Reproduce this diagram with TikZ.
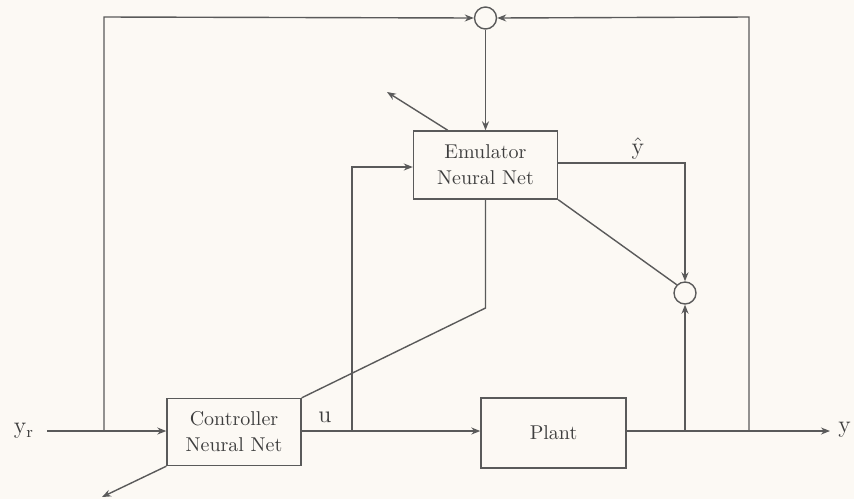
\documentclass[tikz,border=0pt]{standalone}
\usetikzlibrary{arrows.meta}
\definecolor{paper}{HTML}{FCF9F4}
\definecolor{ink}{HTML}{5A5A5A}
\definecolor{txt}{HTML}{3E3E3E}
\begin{document}
\begin{tikzpicture}[x=0.5pt,y=-0.5pt,
  wire/.style={draw=ink,line width=0.7pt},
  arr/.style={wire,-{Stealth[length=4.5pt,width=3.5pt]}},
  blockbox/.style={draw=ink,line width=0.7pt,fill=paper,text=txt,align=center,inner sep=0pt,font=\normalsize},
  sumnode/.style={draw=ink,line width=0.7pt,circle,minimum size=11pt,inner sep=0pt,fill=paper},
  lbl/.style={text=txt,inner sep=0pt,font=\large}]
  % page
  \fill[paper] (0,0) rectangle (854,499);
  \useasboundingbox (0,0) rectangle (854,499);

  % blocks
  \node[blockbox,minimum width=67pt,minimum height=33.5pt] (ctrl) at (234,432) {Controller\\[1pt]Neural Net};
  \node[blockbox,minimum width=72.5pt,minimum height=35pt] (plant) at (553.5,433) {Plant};
  \node[blockbox,minimum width=72pt,minimum height=34pt] (emu) at (485.5,165) {Emulator\\[1pt]Neural Net};

  % summing junctions
  \node[sumnode] (s1) at (485.5,18) {};
  \node[sumnode] (s2) at (685,293) {};

  % labels
  \node[lbl] (yr) at (24,431) {$\mathrm{y}_{\mathrm{r}}$};
  \node[lbl] (ulbl) at (325,417) {u};
  \node[lbl] (yhat) at (638,148) {$\hat{\mathrm{y}}$};
  \node[lbl,anchor=west] (yout) at (838,430) {y};

  % helper points
  \coordinate (inL) at (47,431);
  \coordinate (tapL) at (104,431);
  \coordinate (tapU) at (352,431);
  \coordinate (tapP) at (685,431);
  \coordinate (tapY) at (749,431);
  \coordinate (outE) at (830,431);
  \coordinate (bend) at (485.5,308);
  \coordinate (cErr) at (102,497);
  \coordinate (eErr) at (387,92);

  % forward path
  \draw[arr] (inL) -- (ctrl.west |- inL);
  \draw[arr] (ctrl.east |- tapU) -- (plant.west |- tapU);
  \draw[arr] (plant.east |- outE) -- (outE);

  % reference signal up to the top summer
  \draw[arr] (tapL) -- (104,17) -- (s1.west);
  % plant output to the top summer
  \draw[arr] (tapY) -- (749,17) -- (s1.east);
  % top summer into the emulator
  \draw[arr] (s1.south) -- (emu.north);

  % control signal into the emulator
  \draw[arr] (tapU) -- (352,167) -- (emu.west |- 0,167);
  % link from controller to emulator
  \draw[wire] (ctrl.north east) -- (bend) -- (emu.south);

  % emulator output to the lower summer
  \draw[arr] (emu.east |- 0,163) -- (685,163) -- (s2.north);
  \draw[arr] (tapP) -- (s2.south);
  \draw[wire] (emu.south east) -- (s2.north west);

  % error signals leaving the networks
  \draw[arr] (ctrl.south west) -- (cErr);
  \draw[arr] (emu.north west) ++(35,0) coordinate (eTap) -- (eErr);
\end{tikzpicture}
\end{document}
